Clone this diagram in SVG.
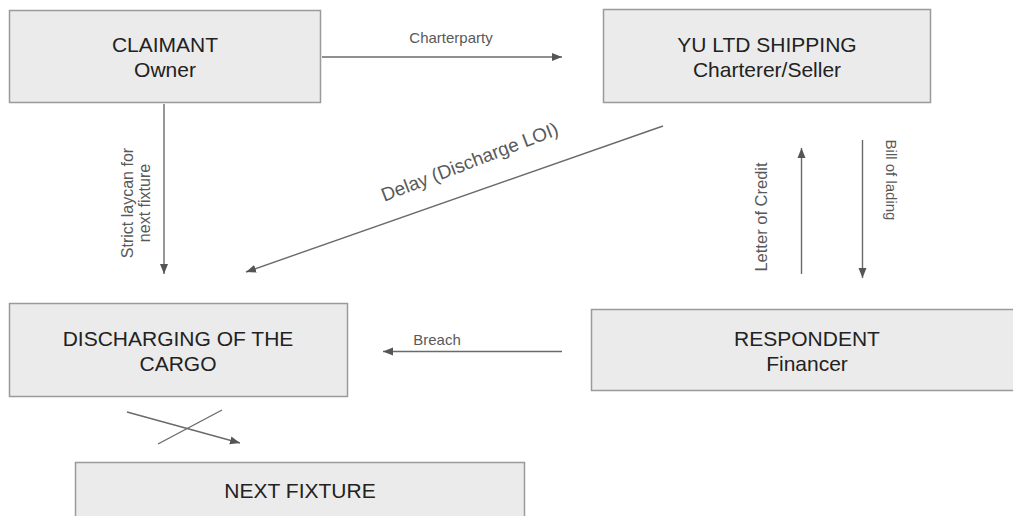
<svg xmlns="http://www.w3.org/2000/svg" width="1013" height="516" viewBox="0 0 1013 516">
<style>
.box{fill:#ebebeb;stroke:#9a9a9a;stroke-width:1.5}
.bt{font-family:"Liberation Sans",Arial,sans-serif;font-size:21px;fill:#222;text-anchor:middle}
.lbl{font-family:"Liberation Sans",Arial,sans-serif;font-size:15px;fill:#595959;text-anchor:middle}
.ln{stroke:#6a6a6a;stroke-width:1.4;fill:none}
</style>
<defs>
<marker id="ah" viewBox="0 0 10 10" refX="10" refY="5" markerWidth="10" markerHeight="10" markerUnits="userSpaceOnUse" orient="auto">
<path d="M0,1 L10,5 L0,9 Z" fill="#555"/>
</marker>
</defs>
<rect width="1013" height="516" fill="#fff"/>
<g id="claimant">
<rect class="box" x="9.5" y="10.5" width="311" height="92"/>
<text class="bt" x="165" y="52">CLAIMANT</text>
<text class="bt" x="165" y="77">Owner</text>
</g>
<g id="yu">
<rect class="box" x="603.5" y="9.5" width="327" height="93"/>
<text class="bt" x="767" y="52">YU LTD SHIPPING</text>
<text class="bt" x="767" y="77">Charterer/Seller</text>
</g>
<g id="discharging">
<rect class="box" x="9.5" y="303.5" width="338" height="93"/>
<text class="bt" x="178" y="346">DISCHARGING OF THE</text>
<text class="bt" x="178" y="371">CARGO</text>
</g>
<g id="respondent">
<rect class="box" x="591.5" y="309.5" width="430" height="81"/>
<text class="bt" x="807" y="346">RESPONDENT</text>
<text class="bt" x="807" y="371">Financer</text>
</g>
<g id="nextfixture">
<rect class="box" x="75.5" y="462.5" width="449" height="70"/>
<text class="bt" x="300" y="498">NEXT FIXTURE</text>
</g>
<g id="connectors">
<line class="ln" x1="322" y1="57" x2="562" y2="57" marker-end="url(#ah)"/>
<text class="lbl" x="451" y="43">Charterparty</text>
<line class="ln" x1="164" y1="104" x2="164" y2="274" marker-end="url(#ah)"/>
<text class="lbl" style="font-size:16px" transform="translate(133,203) rotate(-90)" x="0" y="0">Strict laycan for</text>
<text class="lbl" style="font-size:16px" transform="translate(150,203) rotate(-90)" x="0" y="0">next fixture</text>
<line class="ln" x1="663" y1="126" x2="246" y2="272" marker-end="url(#ah)"/>
<text class="lbl" style="font-size:19px" transform="translate(472,168) rotate(-21)" x="0" y="0">Delay (Discharge LOI)</text>
<line class="ln" x1="801.5" y1="274" x2="801.5" y2="148" marker-end="url(#ah)"/>
<text class="lbl" style="font-size:16.5px" transform="translate(767,217) rotate(-90)" x="0" y="0">Letter of Credit</text>
<line class="ln" x1="862.5" y1="140" x2="862.5" y2="278" marker-end="url(#ah)"/>
<text class="lbl" transform="translate(886,180) rotate(90)" x="0" y="0">Bill of lading</text>
<line class="ln" x1="562" y1="351.5" x2="383" y2="351.5" marker-end="url(#ah)"/>
<text class="lbl" x="437" y="345">Breach</text>
<line class="ln" x1="127" y1="412" x2="240" y2="443" marker-end="url(#ah)"/>
<line class="ln" x1="158" y1="444" x2="222" y2="410"/>
</g>
</svg>
